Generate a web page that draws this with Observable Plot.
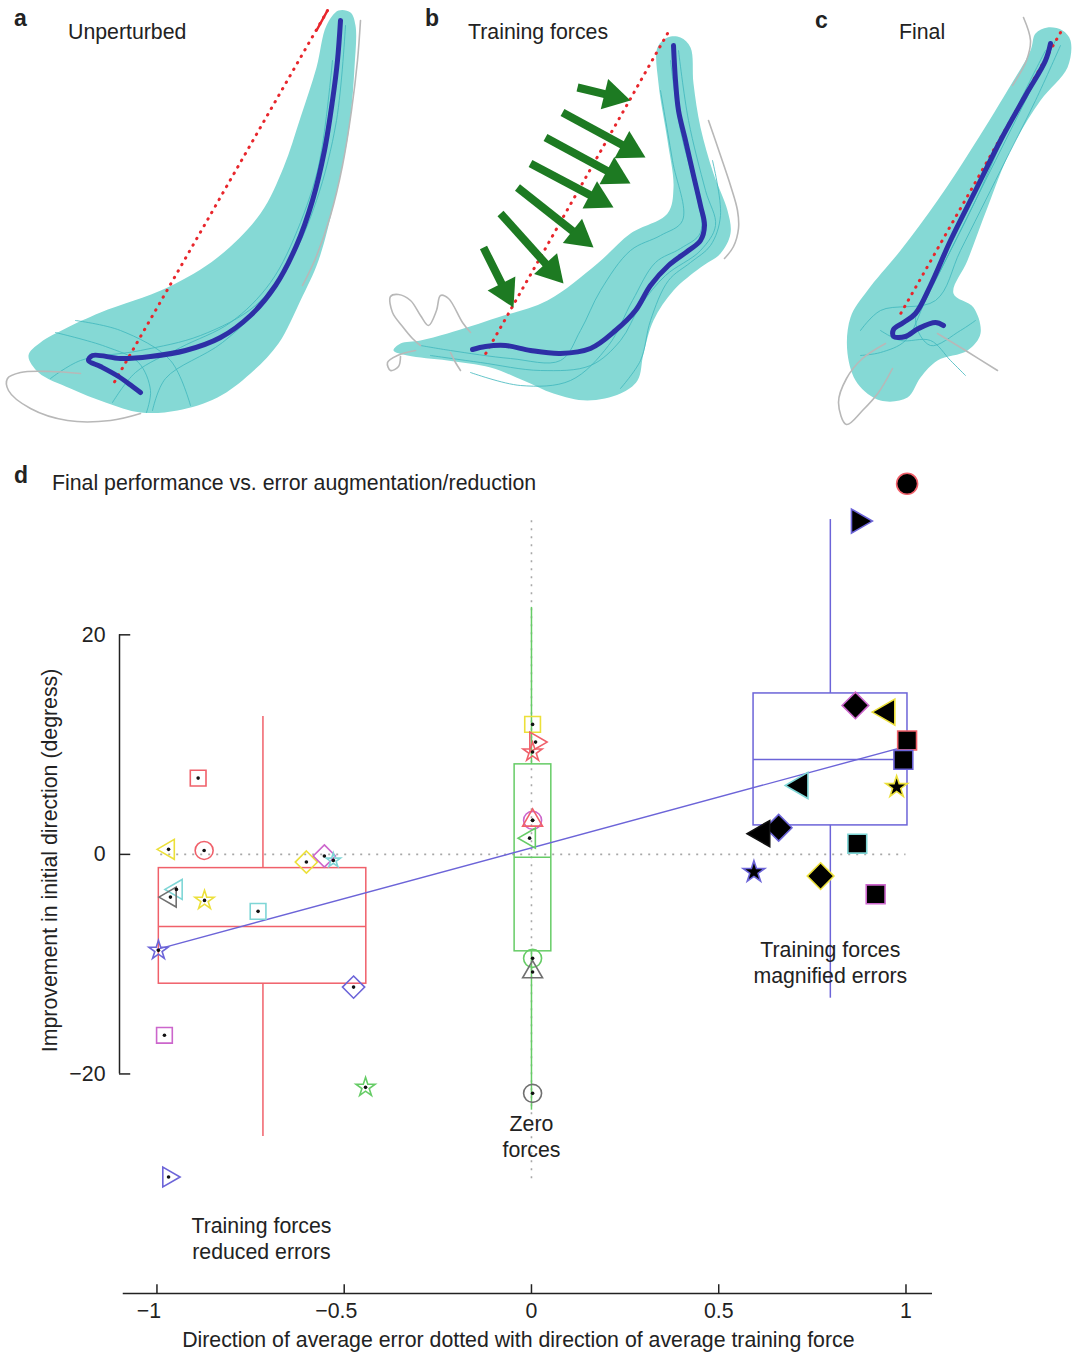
<!DOCTYPE html>
<html><head><meta charset="utf-8">
<script src="https://cdn.jsdelivr.net/npm/d3@7"></script>
<script src="https://cdn.jsdelivr.net/npm/@observablehq/plot@0.6"></script>
<style>
body{margin:0;background:#fff;}
#wrap{position:relative;width:1075px;height:1356px;overflow:hidden;font-family:"Liberation Sans",Arial,sans-serif;color:#222;background:#fff;}
.lbl{position:absolute;font-size:21.3px;line-height:21px;white-space:nowrap;}
.let{position:absolute;font-size:23px;line-height:23px;font-weight:bold;}
#top{position:absolute;left:0;top:0;}
#bot{position:absolute;left:0;top:440px;}
</style></head>
<body><div id="wrap">
<div id="top"></div><div id="bot"></div>
<div class="let" style="left:14px;top:7px">a</div>
<div class="lbl" style="left:68px;top:22px">Unperturbed</div>
<div class="let" style="left:425px;top:7px">b</div>
<div class="lbl" style="left:468px;top:22px">Training forces</div>
<div class="let" style="left:815px;top:9px">c</div>
<div class="lbl" style="left:899px;top:22px">Final</div>
<div class="let" style="left:14px;top:464px">d</div>
<div class="lbl" style="left:52px;top:473px">Final performance vs. error augmentation/reduction</div>
</div>
<script>
// ---------- Panels a–c: hand trajectories (reference frame units) ----------
const regionA = [[338,10],[350,12],[355,25],[354,67],[348,133],[334,200],[318,260],[300,300],[278,343],[250,373],[217,397],[177,410],[140,412],[105,402],[70,388],[38,372],[28,355],[40,342],[65,328],[100,312],[167,287],[217,257],[260,213],[283,167],[300,117],[316,67],[326,25]];
const meanA = [[340,20],[337,60],[332,100],[324,150],[312,200],[296,245],[275,285],[250,315],[220,337],[185,350],[150,356],[120,358],[92,355],[88,360],[100,366],[118,376],[132,386],[140,392]];
const targetA = [[327,10],[112,385]];
const grayA1 = [[360,20],[357,60],[351,110],[342,165],[330,215],[315,258],[302,285]];
const grayA2 = [[140,413],[110,420],[67,420],[30,408],[8,390],[7,378],[20,372],[50,371],[80,373]];
const trialsA = [
  [[345,25],[336,120],[316,200],[290,260],[255,305],[200,335],[140,350],[80,360],[50,378]],
  [[340,30],[322,150],[300,222],[270,282],[230,322],[180,347],[135,372],[112,402]],
  [[332,60],[321,150],[302,232],[272,292],[222,342],[165,378],[152,410]],
  [[55,332],[105,346],[138,362],[150,390],[146,412]],
  [[75,320],[120,330],[170,360],[190,405]]
];
const regionB = [[667,37],[680,37],[690,47],[693,83],[700,127],[713,173],[727,210],[730,233],[720,253],[700,267],[673,290],[653,320],[643,353],[637,380],[620,393],[587,400],[553,393],[523,380],[490,367],[447,360],[407,355],[393,350],[400,343],[420,340],[447,333],[497,317],[547,300],[597,263],[630,233],[667,213],[673,187],[667,140],[658,83],[657,47]];
const meanB = [[673,45],[675,80],[678,110],[685,140],[693,175],[700,205],[704,225],[700,240],[688,250],[668,265],[650,285],[635,310],[615,330],[590,348],[560,353],[530,350],[505,345],[485,346],[472,349]];
const targetB = [[667,33],[483,357]];
const grayB1 = [[708,120],[720,155],[730,185],[737,210],[738,228],[733,246],[724,258]];
const grayB2 = [[470,332],[462,322],[448,298],[440,295],[436,310],[428,325],[420,315],[410,300],[398,294],[390,296],[392,312],[402,326],[412,338],[420,345]];
const grayB3 = [[415,350],[397,355],[387,362],[390,370],[398,366],[400,356]];
const grayB4 = [[450,352],[455,362],[460,370]];
const trialsB = [
  [[678,50],[688,120],[705,190],[715,225],[700,250],[665,275],[640,305],[620,340],[590,365],[540,370],[480,362],[430,355]],
  [[670,60],[680,130],[695,190],[700,232],[680,248],[655,262],[632,300],[608,345],[570,380],[520,385],[470,372]],
  [[660,90],[672,160],[682,220],[660,235],[630,250],[600,290],[580,330],[560,360],[510,358],[450,350],[420,345]],
  [[712,160],[720,215],[710,245],[690,262],[668,280],[650,320],[640,360],[620,388]]
];
const arrowTails = [[577,87],[562,112],[545,137],[530,163],[517,187],[500,213],[483,247]];
const arrowTips  = [[630,100],[645,157],[630,183],[613,207],[593,247],[563,283],[513,307]];
const regionC = [[1047,27],[1062,30],[1070,40],[1067,67],[1040,100],[1010,150],[987,207],[967,260],[953,293],[973,307],[980,333],[967,350],[937,360],[920,377],[907,397],[880,400],[857,383],[847,353],[850,317],[867,290],[900,250],[937,200],[970,150],[1007,90],[1030,50],[1035,33]];
const meanC = [[1050,43],[1045,60],[1025,95],[1000,140],[975,190],[950,240],[930,285],[915,313],[903,322],[893,329],[893,336],[905,336],[918,328],[935,322],[943,325]];
const targetC = [[1060,32],[898,317]];
const grayC1 = [[1023,17],[1030,40],[1026,60],[1012,85]];
const grayC2 = [[937,333],[965,350],[997,370]];
const grayC3 = [[885,343],[862,358],[846,378],[838,402],[846,424],[862,410],[878,392],[892,368]];
const trialsC = [
  [[1055,40],[1030,90],[990,170],[950,250],[925,300],[905,340],[880,352],[860,355]],
  [[1045,50],[1015,110],[975,200],[940,270],[915,320],[930,345],[960,330],[975,320]],
  [[1060,45],[1035,100],[1000,170],[960,250],[935,300],[880,310],[860,330]],
  [[880,330],[900,340],[930,340],[950,360],[965,375]]
];

const cyanFill = "#85d9d5", trialCol = "#3fb6bd", meanCol = "#2d2fa6", redCol = "#e8262c", grayCol = "#b8b8b8", arrowCol = "#1d7a22";

function arrowUnit(i){const dx=arrowTips[i][0]-arrowTails[i][0], dy=arrowTips[i][1]-arrowTails[i][1]; const L=Math.hypot(dx,dy); return [dx/L,dy/L];}
const arrows = arrowTails.map((t,i)=>({i, t, h: arrowTips[i]}));
const headR = 11.5;

function panelMarks(region, trials, gray, mean, target){
  return [
    Plot.line(region, {curve:"catmull-rom-closed", fill:cyanFill, stroke:"none"}),
    ...trials.map(t=>Plot.line(t, {curve:"catmull-rom", stroke:trialCol, strokeWidth:1, strokeOpacity:0.8})),
    ...gray.map(g=>Plot.line(g, {curve:"catmull-rom", stroke:grayCol, strokeWidth:1.6})),
    Plot.line(target, {stroke:redCol, strokeWidth:3, strokeDasharray:"0.5,7", strokeLinecap:"round"}),
    Plot.line(mean, {curve:"catmull-rom", stroke:meanCol, strokeWidth:5, strokeLinecap:"round", strokeLinejoin:"round"})
  ];
}

const topPlot = Plot.plot({
  width:1075, height:440, margin:0,
  x:{domain:[0,1075], range:[0,1075], axis:null},
  y:{domain:[0,440], range:[0,440], axis:null},
  marks:[
    ...panelMarks(regionA, trialsA, [grayA1, grayA2], meanA, targetA),
    Plot.line([targetA[0],[316,30]], {stroke:redCol, strokeWidth:2.5}),
    ...panelMarks(regionB, trialsB, [grayB1, grayB2, grayB3, grayB4], meanB, targetB),
    ...panelMarks(regionC, trialsC, [grayC1, grayC2, grayC3], meanC, targetC),
    Plot.link(arrows, {x1:d=>d.t[0], y1:d=>d.t[1], x2:d=>d.h[0]-arrowUnit(d.i)[0]*20, y2:d=>d.h[1]-arrowUnit(d.i)[1]*20, stroke:arrowCol, strokeWidth:8}),
    Plot.dot(arrows, {x:d=>d.h[0]-arrowUnit(d.i)[0]*1.555*headR, y:d=>d.h[1]-arrowUnit(d.i)[1]*1.555*headR, symbol:"triangle", r:headR, fill:arrowCol, stroke:"none", rotate:d=>Math.atan2(arrowUnit(d.i)[0], -arrowUnit(d.i)[1])*180/Math.PI})
  ]
});
document.getElementById("top").append(topPlot);

// ---------- Panel d data ----------
const xTicks = [-1, -0.5, 0, 0.5, 1];
const xTickLabels = ["\u22121", "\u22120.5", "0", "0.5", "1"];
const yTicks = [20, 0, -20];
const yTickLabels = ["20", "0", "\u221220"];

const colors = {red:"#f0606a", yellow:"#ece03a", cyan:"#7fd6d6", magenta:"#cc66cc", blue:"#6c64d8", green:"#66cc66", gray:"#707070", black:"#111111"};

// box plots: reduced / zero / magnified
const boxGroups = ["reduced", "zero", "magnified"];
const boxLeft  = [-0.995, -0.045, 0.593];
const boxRight = [-0.441, 0.053, 1.004];
const boxMid   = [-0.717, 0.0, 0.798];
const boxQ1    = [-11.78, -8.83, 2.64];
const boxMed   = [-6.56, -0.27, 8.65];
const boxQ3    = [-1.25, 8.2, 14.66];
const boxLo    = [-25.7, -23.3, -13.1];
const boxHi    = [12.57, 22.5, 30.5];
const boxColor = ["red", "green", "blue"];

// regression fit endpoints
const fitX = [-1, 1];
const fitY = [-8.65, 9.84];

// points: [x, y, shape, colour]
const reducedPts = [
  [-0.890, 6.95, "square", "red"],
  [-0.969, 0.46, "triL", "yellow"],
  [-0.874, 0.36, "circle", "red"],
  [-0.601, -0.70, "diamond", "yellow"],
  [-0.553, -0.15, "diamond", "magenta"],
  [-0.529, -0.55, "starS", "cyan"],
  [-0.948, -3.19, "triL", "cyan"],
  [-0.964, -3.89, "triL", "gray"],
  [-0.873, -4.19, "star", "yellow"],
  [-0.730, -5.19, "square", "cyan"],
  [-0.996, -8.74, "star", "blue"],
  [-0.475, -12.09, "diamond", "blue"],
  [-0.980, -16.48, "square", "magenta"],
  [-0.443, -21.22, "star", "green"],
  [-0.969, -29.39, "triR", "blue"]
];
const zeroPts = [
  [0.003, 11.84, "square", "yellow"],
  [0.011, 10.23, "triR", "red"],
  [0.003, 9.32, "star", "red"],
  [0.003, 3.10, "circle", "magenta"],
  [0.003, 3.10, "triU", "red"],
  [-0.005, 1.48, "triL", "green"],
  [0.003, -9.47, "circle", "green"],
  [0.003, -10.72, "triU", "gray"],
  [0.003, -21.77, "circle", "gray"]
];
const magnifiedPts = [
  [1.003, 33.76, "circle", "red"],
  [0.873, 30.36, "triR", "blue"],
  [0.865, 13.57, "diamond", "magenta"],
  [0.950, 12.96, "triL", "yellow"],
  [1.003, 10.38, "square", "red"],
  [0.993, 8.62, "square", "blue"],
  [0.718, 6.28, "triL", "cyan"],
  [0.975, 6.13, "star", "yellow"],
  [0.660, 2.43, "diamond", "blue"],
  [0.616, 1.89, "triL", "black"],
  [0.870, 0.97, "square", "cyan"],
  [0.594, -1.61, "star", "blue"],
  [0.772, -1.98, "diamond", "yellow"],
  [0.919, -3.64, "square", "magenta"]
];

const annotations = [
  {x:0.798, y:-9.75, text:"Training forces\nmagnified errors"},
  {x:0.0, y:-25.6, text:"Zero\nforces"},
  {x:-0.721, y:-34.9, text:"Training forces\nreduced errors"}
];

const boxes = boxGroups.map((g,i)=>({g, left:boxLeft[i], right:boxRight[i], mid:boxMid[i], q1:boxQ1[i], med:boxMed[i], q3:boxQ3[i], lo:boxLo[i], hi:boxHi[i], color:colors[boxColor[i]]}));
const fit = fitX.map((x,i)=>({x, y:fitY[i]}));
const toObj = a => ({x:a[0], y:a[1], shape:a[2], c:colors[a[3]]});
const openPts = [...reducedPts, ...zeroPts].map(toObj);
const filledPts = magnifiedPts.map(toObj);
const tickRows = xTicks.map((v,i)=>({v, label:xTickLabels[i]}));

const shapes = {
  square:{symbol:"square2", rot:0, r:[10, 12]},
  circle:{symbol:"circle", rot:0, r:[9, 10.5]},
  diamond:{symbol:"diamond2", rot:0, r:[10, 12]},
  star:{symbol:"star", rot:0, r:[6, 6.8]},
  starS:{symbol:"star", rot:0, r:[4.5, 4.5]},
  triL:{symbol:"triangle2", rot:-90, r:[9.5, 12.5]},
  triR:{symbol:"triangle2", rot:90, r:[9.5, 11.5]},
  triU:{symbol:"triangle2", rot:0, r:[9.5, 11]}
};
function pointMarks(pts, filled){
  return Object.keys(shapes).map(k=>{
    const s = shapes[k];
    const sub = pts.filter(p=>p.shape===k);
    return Plot.dot(sub, {x:"x", y:"y", symbol:s.symbol, rotate:s.rot, r:s.r[filled?1:0],
      fill: filled ? "#000" : "none", stroke:d=>d.c, strokeWidth:1.6});
  });
}

const FS = 21.3;
const dPlot = Plot.plot({
  width:1075, height:916,
  marginLeft:119, marginRight:143, marginTop:20, marginBottom:63,
  x:{domain:[-1.1, 1.0708], axis:null},
  y:{domain:[-40, 35.88], axis:null},
  color:{type:"identity"},
  style:{fontFamily:"'Liberation Sans', Arial, sans-serif", fontSize:"21px", color:"#222", background:"transparent"},
  marks:[
    Plot.ruleY([0], {x1:-0.99, x2:1.0, stroke:"#a8a8a8", strokeWidth:1.6, strokeDasharray:"2,6"}),
    Plot.ruleX([0], {y1:30.4, y2:-29.7, stroke:"#a8a8a8", strokeWidth:1.6, strokeDasharray:"2,6"}),
    Plot.rect(boxes, {x1:"left", x2:"right", y1:"q1", y2:"q3", stroke:"color", fill:"none", strokeWidth:1.5}),
    Plot.ruleY(boxes, {y:"med", x1:"left", x2:"right", stroke:"color", strokeWidth:1.5}),
    Plot.ruleX(boxes, {x:"mid", y1:"q3", y2:"hi", stroke:"color", strokeWidth:1.5}),
    Plot.ruleX(boxes, {x:"mid", y1:"lo", y2:"q1", stroke:"color", strokeWidth:1.5}),
    Plot.line(fit, {x:"x", y:"y", stroke:"#6c64d8", strokeWidth:1.4}),
    ...pointMarks(openPts, false),
    Plot.dot(openPts, {x:"x", y:"y", r:1.8, fill:"#111", stroke:"none"}),
    ...pointMarks(filledPts, true),
    // axes
    Plot.ruleY([-40], {x1:-1.09, x2:1.0708, stroke:"#222", strokeWidth:1.5}),
    Plot.ruleX(xTicks, {x:d=>d, y1:-40, y2:-39.2, stroke:"#222", strokeWidth:1.5}),
    Plot.text(tickRows.filter(t=>t.v<0), {x:"v", y:-40, dy:18, dx:-8, text:"label", fontSize:FS, fill:"#222"}),
    Plot.text(tickRows.filter(t=>t.v>=0), {x:"v", y:-40, dy:18, text:"label", fontSize:FS, fill:"#222"}),
    Plot.ruleX([-1.1], {y1:-20, y2:20, stroke:"#222", strokeWidth:1.5}),
    Plot.ruleY(yTicks, {y:d=>d, x1:-1.1, x2:-1.07, stroke:"#222", strokeWidth:1.5}),
    Plot.text(yTicks, {x:-1.1, y:d=>d, dx:-14, textAnchor:"end", text:(d,i)=>yTickLabels[i], fontSize:FS, fill:"#222"}),
    Plot.text(["Direction of average error dotted with direction of average training force"], {x:-0.035, y:-40, dy:47, text:d=>d, fontSize:FS, fill:"#222"}),
    Plot.text(["Improvement in initial direction (degress)"], {x:-1.1, y:-0.55, dx:-69, rotate:-90, text:d=>d, fontSize:FS, fill:"#222"}),
    Plot.text(annotations, {x:"x", y:"y", text:"text", fontSize:FS, lineHeight:1.22, fill:"#222"})
  ]
});
document.getElementById("bot").append(dPlot);
</script>
</body></html>
